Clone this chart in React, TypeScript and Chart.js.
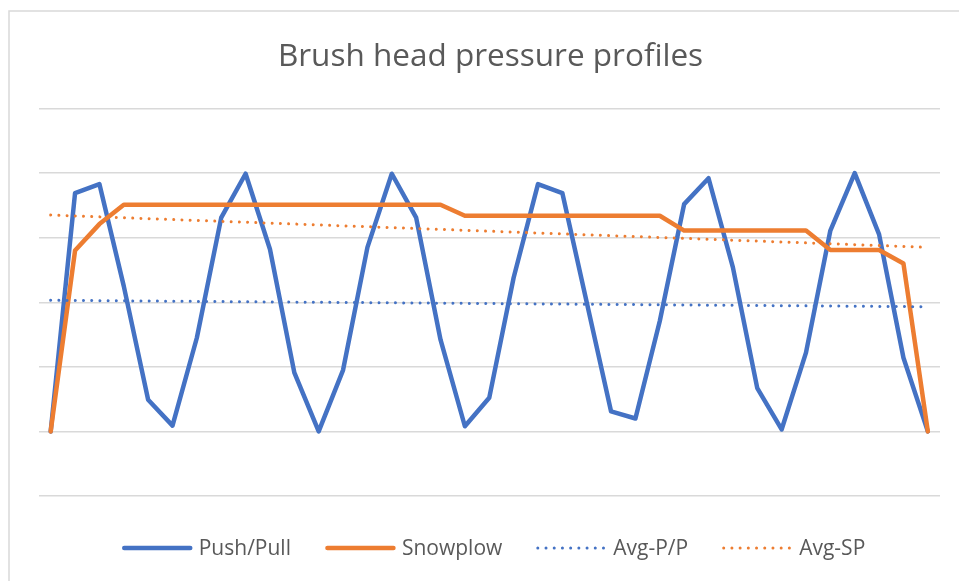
import React, { useEffect, useRef } from "react";
import { Chart, registerables } from "chart.js";

Chart.register(...registerables);

const labels = [
  "1", "2", "3", "4", "5", "6", "7", "8", "9", "10",
  "11", "12", "13", "14", "15", "16", "17", "18", "19", "20",
  "21", "22", "23", "24", "25", "26", "27", "28", "29", "30",
  "31", "32", "33", "34", "35", "36", "37",
];

const pushPull = [
  0, 3.69, 3.83, 2.25, 0.49, 0.09, 1.45, 3.31, 3.99, 2.82,
  0.91, 0, 0.95, 2.85, 3.99, 3.31, 1.42, 0.08, 0.52, 2.38,
  3.83, 3.69, 2.0, 0.31, 0.2, 1.71, 3.52, 3.92, 2.54, 0.67,
  0.03, 1.22, 3.11, 4.0, 3.05, 1.14, 0,
];

const snowplow = [
  0, 2.8, 3.21, 3.51, 3.51, 3.51, 3.51, 3.51, 3.51, 3.51,
  3.51, 3.51, 3.51, 3.51, 3.51, 3.51, 3.51, 3.34, 3.34, 3.34,
  3.34, 3.34, 3.34, 3.34, 3.34, 3.34, 3.11, 3.11, 3.11, 3.11,
  3.11, 3.11, 2.81, 2.81, 2.81, 2.6, 0,
];

// linear trendlines: start and end values
const avgPP = [
  { x: "1", y: 2.03 },
  { x: "37", y: 1.93 },
];
const avgSP = [
  { x: "1", y: 3.35 },
  { x: "37", y: 2.85 },
];

const yMin = -1;
const yMax = 5;

const BLUE = "#4472C4";
const ORANGE = "#ED7D31";
const TEXT = "#595959";
const GRID = "#D9D9D9";
const FONT = "'Open Sans', sans-serif";

const decorPlugin = {
  id: "decor",
  beforeDraw(chart: any) {
    const ctx = chart.ctx;
    ctx.save();
    ctx.fillStyle = "#ffffff";
    ctx.fillRect(0, 0, chart.width, chart.height);
    ctx.strokeStyle = GRID;
    ctx.lineWidth = 1.5;
    ctx.strokeRect(9, 11, chart.width + 50, chart.height + 50);
    ctx.restore();
  },
  afterDraw(chart: any) {
    const ctx = chart.ctx;
    ctx.save();
    // title
    ctx.fillStyle = TEXT;
    ctx.font = `31.5px ${FONT}`;
    ctx.textAlign = "center";
    ctx.textBaseline = "alphabetic";
    ctx.fillText("Brush head pressure profiles", 490.5, 66);

    // legend
    ctx.font = `21px ${FONT}`;
    ctx.textAlign = "left";
    const sampleW = 71;
    const gap = 6;
    const itemGap = 34;
    const ds = chart.data.datasets;
    const widths = ds.map((d: any) => sampleW + gap + ctx.measureText(d.label).width);
    const total = widths.reduce((a: number, b: number) => a + b, 0) + itemGap * (ds.length - 1);
    let x = 493.5 - total / 2;
    const y = 548;
    ds.forEach((d: any, i: number) => {
      ctx.save();
      ctx.strokeStyle = d.borderColor;
      ctx.lineWidth = d.borderWidth;
      ctx.lineCap = "round";
      ctx.setLineDash(d.borderDash || []);
      ctx.beginPath();
      const inset = d.borderDash ? 1.5 : 2.5;
      ctx.moveTo(x + inset, y);
      ctx.lineTo(x + sampleW - inset, y);
      ctx.stroke();
      ctx.restore();
      ctx.fillStyle = TEXT;
      ctx.textBaseline = "middle";
      ctx.fillText(d.label, x + sampleW + gap, y + 1);
      x += widths[i] + itemGap;
    });
    ctx.restore();
  },
};

export default function App() {
  const ref = useRef<HTMLCanvasElement | null>(null);

  useEffect(() => {
    if (!ref.current) return;
    const chart = new Chart(ref.current, {
      type: "line",
      data: {
        labels,
        datasets: [
          {
            label: "Push/Pull",
            data: pushPull,
            borderColor: BLUE,
            backgroundColor: BLUE,
            borderWidth: 4.5,
            borderJoinStyle: "round",
            borderCapStyle: "round",
            pointRadius: 0,
            tension: 0,
            order: 4,
          },
          {
            label: "Snowplow",
            data: snowplow,
            borderColor: ORANGE,
            backgroundColor: ORANGE,
            borderWidth: 4.5,
            borderJoinStyle: "round",
            borderCapStyle: "round",
            pointRadius: 0,
            tension: 0,
            order: 3,
          },
          {
            label: "Avg-P/P",
            data: avgPP as any,
            borderColor: BLUE,
            backgroundColor: BLUE,
            borderWidth: 3,
            borderDash: [0.01, 8.2],
            borderCapStyle: "round",
            pointRadius: 0,
            tension: 0,
            order: 2,
          },
          {
            label: "Avg-SP",
            data: avgSP as any,
            borderColor: ORANGE,
            backgroundColor: ORANGE,
            borderWidth: 3,
            borderDash: [0.01, 8.2],
            borderCapStyle: "round",
            pointRadius: 0,
            tension: 0,
            order: 1,
          },
        ],
      },
      options: {
        responsive: false,
        animation: false,
        layout: { padding: { left: 38.5, right: 19, top: 108.5, bottom: 85 } },
        plugins: {
          legend: { display: false },
          title: { display: false },
          tooltip: { enabled: false },
        },
        scales: {
          x: {
            type: "category",
            offset: true,
            grid: { display: false, drawTicks: false },
            border: { display: false },
            ticks: { display: false },
          },
          y: {
            min: yMin,
            max: yMax,
            ticks: { display: false, stepSize: 1 },
            grid: { color: GRID, lineWidth: 1.5, drawTicks: false },
            border: { display: false },
          },
        },
      },
      plugins: [decorPlugin],
    });
    return () => chart.destroy();
  }, []);

  return (
    <div style={{ position: "absolute", left: 0, top: 0, width: 959, height: 581 }}>
      <canvas ref={ref} width={959} height={581} style={{ width: 959, height: 581 }} />
    </div>
  );
}
